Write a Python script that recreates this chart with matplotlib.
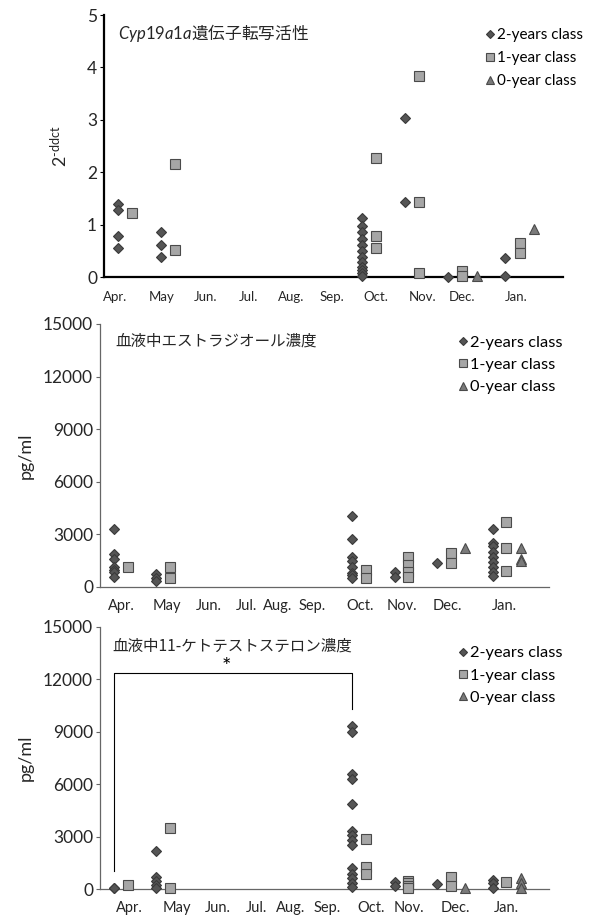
import matplotlib
matplotlib.use('Agg')
import matplotlib.pyplot as plt

plt.rcParams['font.family'] = ['Lato', 'Noto Sans CJK JP', 'DejaVu Sans']
plt.rcParams['mathtext.fontset'] = 'custom'
plt.rcParams['mathtext.rm'] = 'Lato'
plt.rcParams['mathtext.it'] = 'Lato:italic'

# sampling months (x = months on the axis) and class offsets
SAMPLES = ['Apr', 'May', 'Oct', 'Nov', 'Dec', 'Jan']
sample_pos = [0.33, 1.33, 6.0, 7.0, 8.0, 9.33]
CLASSES = ['2-years class', '1-year class', '0-year class']
MONTHS = ['Apr.', 'May', 'Jun.', 'Jul.', 'Aug.', 'Sep.', 'Oct.', 'Nov.', 'Dec.', 'Jan.']

# Cyp19a1a expression (2^-ddct), one list per sampling
cyp_2y = [[1.39, 1.28, 0.78, 0.55], [0.86, 0.61, 0.38],
          [1.12, 0.98, 0.85, 0.73, 0.62, 0.5, 0.38, 0.28, 0.2, 0.14, 0.07, 0.01],
          [3.03, 1.43], [0.0], [0.37, 0.02]]
cyp_1y = [[1.23], [2.16, 0.52], [2.27, 0.78, 0.56], [3.84, 1.44, 0.08], [0.12, 0.02], [0.65, 0.45]]
cyp_0y = [[], [], [], [], [0.01], [0.91]]

# plasma estradiol (pg/ml)
e2_2y = [[3300, 1850, 1600, 1150, 950, 850, 550], [700, 500, 300],
         [4050, 2750, 1700, 1450, 1150, 800, 650, 500], [850, 550], [1350],
         [3300, 2500, 2300, 2000, 1700, 1400, 1150, 850, 600]]
e2_1y = [[1100], [1100, 500], [950, 500], [1700, 1250, 850, 550], [1900, 1350], [3700, 2200, 900]]
e2_0y = [[], [], [], [], [2200], [2200, 1600, 1450]]

# plasma 11-ketotestosterone (pg/ml)
kt_2y = [[100, 50], [2200, 700, 500, 250, 80],
         [9300, 9000, 6600, 6300, 4850, 3350, 3100, 2800, 2550, 1200, 900, 630, 380, 150],
         [400, 200], [280], [550, 350, 100]]
kt_1y = [[250], [3500, 80], [2850, 1300, 850], [450, 350, 200, 50], [700, 200], [430]]
kt_0y = [[], [], [], [], [100], [650, 350, 100]]

# significance bracket Apr vs Oct
bracket_y = [1050, 12350, 12350, 10300]

class_shift = [0.0, 0.33, 0.67]
STYLE = [dict(marker='D', ms=5.2, mfc='#555555', mec='#3a3a3a', mew=0.8),
         dict(marker='s', ms=7.3, mfc='#a6a6a6', mec='#4a4a4a', mew=0.8),
         dict(marker='^', ms=7.6, mfc='#7a7a7a', mec='#4a4a4a', mew=0.8)]

W, H = 591, 916
fig = plt.figure(figsize=(W / 100, H / 100), dpi=100)


def px(x, y):
    return x / W, 1 - y / H


def draw_panel(rect, series, ymax, yticks, label_pos, month_size, month_pad, spine_color,
               spine_w, ylabel, ylabel_x, legend_xy, legend_size, legend_space):
    ax = fig.add_axes(rect)
    for k, vals in enumerate(series):
        xs, ys = [], []
        for pos, group in zip(sample_pos, vals):
            xs += [pos + class_shift[k]] * len(group)
            ys += group
        ax.plot(xs, ys, ls='none', label=CLASSES[k], clip_on=False, zorder=3, **STYLE[k])
    ax.set_xlim(0, 10.67)
    ax.set_ylim(0, ymax)
    ax.set_yticks(yticks)
    ax.set_xticks(label_pos)
    ax.set_xticklabels(MONTHS)
    for s in ['top', 'right']:
        ax.spines[s].set_visible(False)
    for s in ['left', 'bottom']:
        ax.spines[s].set_color(spine_color)
        ax.spines[s].set_linewidth(spine_w)
    ax.tick_params(axis='y', direction='out', length=3, width=0.8, color=spine_color,
                   labelsize=12.5, pad=2, labelcolor='#262626')
    ax.tick_params(axis='x', length=0, labelsize=month_size, pad=month_pad, labelcolor='#262626')
    ax.set_ylabel(ylabel, fontsize=13, color='#262626')
    ax.yaxis.set_label_coords((ylabel_x - rect[0] * W) / (rect[2] * W), 0.5)
    ax.legend(loc='upper left', bbox_to_anchor=px(*legend_xy), bbox_transform=fig.transFigure,
              frameon=False, fontsize=legend_size, markerscale=0.7, handlelength=0.6,
              handletextpad=0.15, labelspacing=legend_space, borderpad=0, borderaxespad=0)
    return ax


ax1 = draw_panel([104 / W, 1 - 277 / H, 459 / W, 262 / H], [cyp_2y, cyp_1y, cyp_0y], 5,
                 range(0, 6), [0.26, 1.35, 2.37, 3.35, 4.35, 5.30, 6.33, 7.40, 8.33, 9.58],
                 9.5, 10, 'black', 1.6, '2$^{\\text{-ddct}}$', 70, (485.4, 28), 11, 0.59)
ax2 = draw_panel([100 / W, 1 - 586.7 / H, 449 / W, 262.7 / H], [e2_2y, e2_1y, e2_0y], 15000,
                 range(0, 15001, 3000),
                 [0.50, 1.59, 2.59, 3.49, 4.23, 5.04, 6.18, 7.18, 8.25, 9.60],
                 10.5, 8.5, '#666666', 0.9, 'pg/ml', 34, (457.8, 335.3), 11.8, 0.48)
ax3 = draw_panel([100 / W, 1 - 889.3 / H, 449 / W, 262.6 / H], [kt_2y, kt_1y, kt_0y], 15000,
                 range(0, 15001, 3000),
                 [0.71, 1.83, 2.80, 3.73, 4.52, 5.39, 6.44, 7.34, 8.44, 9.67],
                 10.5, 8.5, '#666666', 0.9, 'pg/ml', 34, (457.8, 646), 11.8, 0.48)

x_apr, x_oct = sample_pos[0], sample_pos[2]
ax3.plot([x_apr, x_apr, x_oct, x_oct], bracket_y, color='black', lw=0.8, clip_on=False)
ax3.text((x_apr + x_oct) / 2 - 0.15, 12700, '*', ha='center', va='center', fontsize=16)

fig.text(*px(118, 33), '$\\mathit{Cyp19a1a}$遺伝子転写活性', fontsize=12,
         family=['Noto Sans CJK JP'], va='center', ha='left', color='#262626')
fig.text(*px(115, 341), '血液中エストラジオール濃度', fontsize=11.2,
         family=['Noto Sans CJK JP'], va='center', ha='left', color='#262626')
fig.text(*px(112, 646), '血液中11-ケトテストステロン濃度', fontsize=11.2,
         family=['Noto Sans CJK JP'], va='center', ha='left', color='#262626')

fig.savefig('out.png', dpi=100)
